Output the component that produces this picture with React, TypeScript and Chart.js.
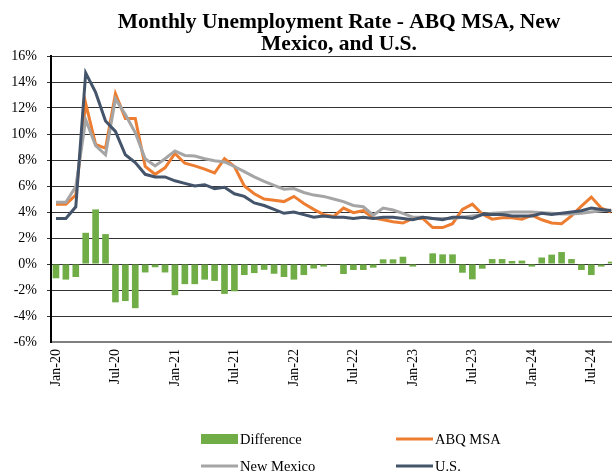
import React, { useEffect, useRef } from "react";
import { Chart, registerables } from "chart.js";

Chart.register(...registerables);

const TITLE_LINES = ["Monthly Unemployment Rate - ABQ MSA, New", "Mexico, and U.S."];

const MONTHS = ["Jan", "Feb", "Mar", "Apr", "May", "Jun", "Jul", "Aug", "Sep", "Oct", "Nov", "Dec"];
const YEARS = ["20", "21", "22", "23", "24"];
const categories: string[] = [];
YEARS.forEach((y) => MONTHS.forEach((m) => categories.push(`${m}-${y}`)));
const labels = categories.slice(0, 57); // Jan-20 .. Sep-24

const difference = [
  -1.1, -1.2, -1.0, 2.4, 4.2, 2.3, -2.95, -2.85, -3.4, -0.65, -0.25, -0.65,
  -2.4, -1.55, -1.55, -1.2, -1.3, -2.3, -2.1, -0.85, -0.7, -0.45, -0.75, -1.0,
  -1.2, -0.85, -0.35, -0.2, 0.0, -0.77, -0.46, -0.46, -0.28, 0.36, 0.36, 0.56,
  -0.2, 0.0, 0.82, 0.74, 0.74, -0.67, -1.18, -0.36, 0.38, 0.38, 0.23, 0.26,
  -0.2, 0.5, 0.72, 0.92, 0.38, -0.46, -0.85, -0.2, 0.18,
];

const abqMsa = [
  4.6, 4.6, 5.3, 12.35, 9.2, 8.9, 13.1, 11.2, 11.2, 7.5, 6.9, 7.4,
  8.5, 7.75, 7.55, 7.3, 7.0, 8.1, 7.5, 6.0, 5.4, 5.0, 4.9, 4.8,
  5.2, 4.65, 4.2, 3.8, 3.65, 4.3, 3.95, 4.1, 3.55, 3.4, 3.25, 3.15,
  3.5, 3.5, 2.8, 2.8, 3.1, 4.2, 4.6, 3.85, 3.45, 3.55, 3.55, 3.45,
  3.75, 3.4, 3.15, 3.1, 3.7, 4.45, 5.15, 4.3, 4.0,
];

const newMexico = [
  4.75, 4.75, 5.95, 11.1, 9.1, 8.4, 12.7, 11.5, 10.1, 8.1, 7.55, 8.1,
  8.7, 8.35, 8.3, 8.1, 7.95, 7.85, 7.5, 7.1, 6.7, 6.35, 6.05, 5.75,
  5.8, 5.5, 5.3, 5.2, 5.0, 4.8, 4.5, 4.4, 3.75, 4.3, 4.15, 3.9,
  3.6, 3.6, 3.5, 3.5, 3.5, 3.6, 3.7, 3.8, 3.9, 3.95, 4.0, 4.0,
  4.0, 3.95, 3.9, 3.85, 3.85, 3.9, 4.0, 4.1, 4.15,
];

const us = [
  3.5, 3.5, 4.4, 14.7, 13.2, 11.0, 10.2, 8.4, 7.8, 6.9, 6.7, 6.7,
  6.4, 6.2, 6.0, 6.1, 5.8, 5.9, 5.4, 5.2, 4.7, 4.5, 4.2, 3.9,
  4.0, 3.8, 3.6, 3.7, 3.6, 3.6, 3.5, 3.6, 3.5, 3.6, 3.6, 3.5,
  3.4, 3.6, 3.5, 3.4, 3.6, 3.6, 3.5, 3.8, 3.8, 3.8, 3.7, 3.7,
  3.7, 3.9, 3.8, 3.9, 4.0, 4.1, 4.3, 4.2, 4.1,
];

const FONT = '"Liberation Serif", "Times New Roman", serif';

const titlePlugin = {
  id: "customTitle",
  afterDraw(chart: any) {
    const ctx = chart.ctx;
    ctx.save();
    ctx.font = `bold 21.5px ${FONT}`;
    ctx.fillStyle = "#000";
    ctx.textAlign = "center";
    ctx.textBaseline = "alphabetic";
    TITLE_LINES.forEach((t, i) => ctx.fillText(t, 339, 28 + i * 22));
    ctx.restore();
  },
};

const legendPlugin = {
  id: "customLegend",
  afterDraw(chart: any) {
    const ctx = chart.ctx;
    const ds = chart.data.datasets;
    const slots = [
      { x: 201, y: 439 },
      { x: 396, y: 439 },
      { x: 201, y: 466 },
      { x: 396, y: 466 },
    ];
    ctx.save();
    ctx.font = `14.5px ${FONT}`;
    ctx.fillStyle = "#000";
    ctx.textBaseline = "middle";
    ds.forEach((d: any, i: number) => {
      const s = slots[i];
      if (d.type === "bar") {
        ctx.fillStyle = d.backgroundColor;
        ctx.fillRect(s.x, s.y - 5, 37, 10);
      } else {
        ctx.strokeStyle = d.borderColor;
        ctx.lineWidth = 3;
        ctx.beginPath();
        ctx.moveTo(s.x, s.y);
        ctx.lineTo(s.x + 37, s.y);
        ctx.stroke();
      }
      ctx.fillStyle = "#000";
      ctx.fillText(d.label, s.x + 39, s.y + 1);
    });
    ctx.restore();
  },
};

export default function App() {
  const ref = useRef<HTMLCanvasElement | null>(null);
  useEffect(() => {
    if (!ref.current) return;
    const chart = new Chart(ref.current, {
      type: "bar",
      data: {
        labels,
        datasets: [
          {
            type: "bar",
            label: "Difference",
            data: difference,
            backgroundColor: "#70AD47",
            categoryPercentage: 1,
            barPercentage: 0.67,
            order: 4,
          },
          {
            type: "line",
            label: "ABQ MSA",
            data: abqMsa,
            borderColor: "#ED7D31",
            backgroundColor: "#ED7D31",
            borderWidth: 3,
            pointRadius: 0,
            tension: 0,
            order: 3,
          },
          {
            type: "line",
            label: "New Mexico",
            data: newMexico,
            borderColor: "#A5A5A5",
            backgroundColor: "#A5A5A5",
            borderWidth: 3,
            pointRadius: 0,
            tension: 0,
            order: 2,
          },
          {
            type: "line",
            label: "U.S.",
            data: us,
            borderColor: "#44546A",
            backgroundColor: "#44546A",
            borderWidth: 3,
            pointRadius: 0,
            tension: 0,
            order: 1,
          },
        ] as any,
      },
      options: {
        animation: false,
        responsive: false,
        devicePixelRatio: 1,
        layout: { padding: { top: 56, right: 6, left: 0, bottom: 0 } },
        plugins: {
          legend: { display: false },
          title: { display: false },
          tooltip: { enabled: false },
        },
        scales: {
          x: {
            offset: true,
            grid: { display: false, drawTicks: false },
            border: { display: true, color: "#808080", width: 2 },
            ticks: {
              autoSkip: false,
              maxRotation: 90,
              minRotation: 90,
              padding: 7,
              color: "#000",
              font: { family: FONT, size: 14 },
              callback: (_v: any, i: number) => (i % 6 === 0 ? labels[i] : ""),
            },
            afterFit: (s: any) => {
              s.height = 132;
            },
          },
          y: {
            min: -6,
            max: 16,
            ticks: {
              stepSize: 2,
              padding: 10,
              color: "#000",
              font: { family: FONT, size: 14 },
              callback: (v: any) => `${v}%`,
            },
            grid: {
              color: (c: any) => (c.tick && c.tick.value === -6 ? "rgba(0,0,0,0)" : "#333"),
              lineWidth: 1,
              tickLength: 4,
              drawTicks: true,
            },
            border: { display: true, color: "#000", width: 2 },
            afterFit: (s: any) => {
              s.width = 51;
            },
          },
        },
      },
      plugins: [titlePlugin, legendPlugin],
    });
    return () => chart.destroy();
  }, []);

  return (
    <div style={{ position: "fixed", left: 0, top: 0, width: 612, height: 474, overflow: "hidden", background: "#fff" }}>
      <canvas ref={ref} width={635} height={474} style={{ width: 635, height: 474, display: "block" }} />
    </div>
  );
}
